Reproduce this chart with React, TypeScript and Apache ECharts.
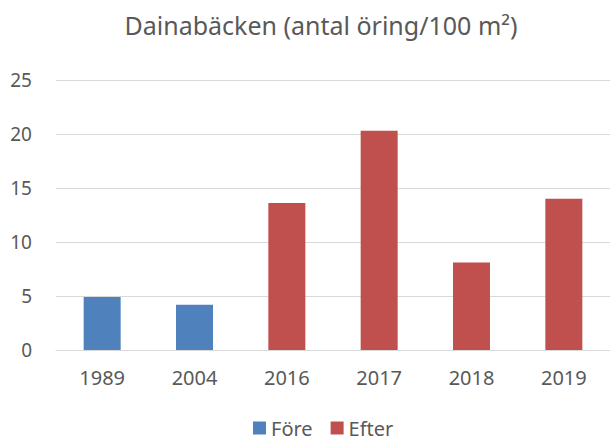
import React, { useEffect, useRef } from "react";
import * as echarts from "echarts";

const categories = ["1989", "2004", "2016", "2017", "2018", "2019"];
const foreValues: (number | string)[] = [4.9, 4.2, "-", "-", "-", "-"];
const efterValues: (number | string)[] = ["-", "-", 13.6, 20.3, 8.1, 14.0];
const seriesNames = ["Före", "Efter"];
const titleText = "Dainabäcken (antal öring/100 m²)";

export default function App() {
  const ref = useRef<HTMLDivElement>(null);
  useEffect(() => {
    if (!ref.current) return;
    const chart = echarts.init(ref.current, null, { renderer: "svg" });
    const font = "'Noto Sans', sans-serif";
    chart.setOption({
      animation: false,
      backgroundColor: "#ffffff",
      title: {
        text: titleText,
        left: 316,
        textAlign: "center",
        top: 7,
        textStyle: { color: "#595959", fontSize: 25, fontWeight: "normal", fontFamily: font },
      },
      legend: {
        data: seriesNames,
        top: 413,
        left: 248,
        icon: "rect",
        itemWidth: 13,
        itemHeight: 13,
        itemGap: 18,
        textStyle: { color: "#595959", fontSize: 20, fontFamily: font },
      },
      grid: { left: 56, right: 0, top: 80, bottom: 92, containLabel: false },
      xAxis: {
        type: "category",
        data: categories,
        axisTick: { show: false },
        axisLine: { lineStyle: { color: "#D9D9D9", width: 1 } },
        axisLabel: { color: "#595959", fontSize: 20, fontFamily: font, margin: 17 },
      },
      yAxis: {
        type: "value",
        min: 0,
        max: 25,
        interval: 5,
        axisLine: { show: false },
        axisTick: { show: false },
        splitLine: { lineStyle: { color: "#D9D9D9", width: 1 } },
        axisLabel: { color: "#595959", fontSize: 19, fontFamily: font, margin: 24 },
      },
      series: [
        {
          name: seriesNames[0],
          type: "bar",
          stack: "all",
          data: foreValues,
          barWidth: 37,
          itemStyle: { color: "#4F81BD" },
        },
        {
          name: seriesNames[1],
          type: "bar",
          stack: "all",
          data: efterValues,
          barWidth: 37,
          itemStyle: { color: "#C0504D" },
        },
      ],
    });
    return () => chart.dispose();
  }, []);
  return <div ref={ref} style={{ width: 610, height: 442, position: "absolute", left: 0, top: 0 }} />;
}
